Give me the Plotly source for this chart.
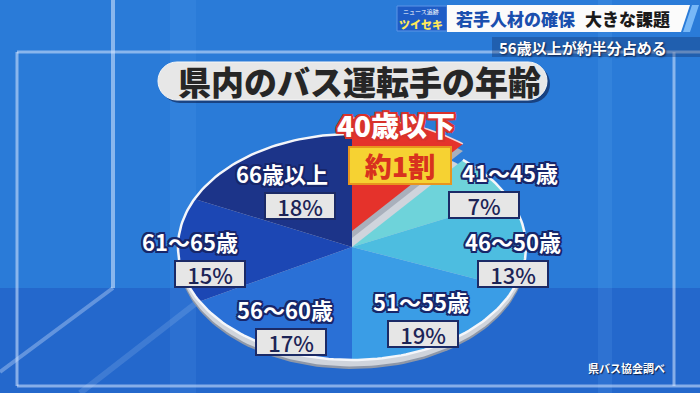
import numpy as np
import plotly.graph_objects as go

# --- data -------------------------------------------------------------
AGE_GROUPS = ["40歳以下", "41～45歳", "46～50歳", "51～55歳", "56～60歳", "61～65歳", "66歳以上"]
SHARES = [11, 7, 13, 19, 17, 15, 18]          # percent of drivers
TITLE = "県内のバス運転手の年齢"
HEADLINE_A = "若手人材の確保"
HEADLINE_B = "大きな課題"
SUBLINE = "56歳以上が約半分占める"
SOURCE = "県バス協会調べ"
HIGHLIGHT_NOTE = "約1割"

# --- styling ----------------------------------------------------------
SLICE_COLORS = ["#e5322b", "#6ed3da", "#4dbde0", "#3a9de6", "#2a70d6", "#1c47b4", "#1c3489"]
FONT = "Noto Sans CJK JP"
OUTLINE = "#17266a"
BG_TOP = "#2a7bd8"
BG_LOW = "#2468cc"

W, H = 700, 393
CX, CY = 352, 247          # pie centre (pixels)
RX, RY = 174, 113          # tilted pie radii
DEPTH = 9                  # rim thickness
LIFT = 16                  # how far the highlighted slice is pulled out
LABEL_R = 0.72
LABEL_NUDGE = [(0, 0), (46, -9), (36, 13), (0, 3), (0, 8), (-27, 7), (6, 11)]
LABEL_SPLIT = [0, 13, 0, -1, -3, -10, -9]   # name shifted right, value box left

cum = np.concatenate([[0], np.cumsum(SHARES)]) / 100.0


def wedge(f0, f1, dy=0.0, n=80):
    t = np.linspace(f0, f1, n) * 2 * np.pi
    xs = np.concatenate([[CX], CX + RX * np.sin(t), [CX]])
    ys = np.concatenate([[CY + dy], CY + dy - RY * np.cos(t), [CY + dy]])
    return xs, ys


def arc(f0, f1, dy=0.0, n=200):
    t = np.linspace(f0, f1, n) * 2 * np.pi
    return CX + RX * np.sin(t), CY + dy - RY * np.cos(t)


fig = go.Figure()

# rim of the tilted pie
for dy, col in [(DEPTH, "#8f98a8"), (DEPTH - 2.5, "#cfd4dc")]:
    xs, ys = arc(0, 1, dy)
    fig.add_trace(go.Scatter(x=xs, y=ys, fill="toself", fillcolor=col, mode="lines",
                             line=dict(width=0), hoverinfo="skip", showlegend=False))

# slices (all but the highlighted first one)
for i in range(1, len(SHARES)):
    xs, ys = wedge(cum[i], cum[i + 1])
    fig.add_trace(go.Scatter(x=xs, y=ys, fill="toself", fillcolor=SLICE_COLORS[i], mode="lines",
                             line=dict(width=0), name=AGE_GROUPS[i],
                             text=f"{AGE_GROUPS[i]} {SHARES[i]}%", hoverinfo="text",
                             hoveron="fills", showlegend=False))

# white edge of the top surface
xs, ys = arc(cum[1], 1)
fig.add_trace(go.Scatter(x=xs, y=ys, mode="lines", line=dict(color="#f4f6fa", width=2.5),
                         hoverinfo="skip", showlegend=False))

# pulled-out slice: side face then top
xs, ys = wedge(cum[0], cum[1], -LIFT + 7)
fig.add_trace(go.Scatter(x=xs, y=ys, fill="toself", fillcolor="#a9b0bc", mode="lines",
                         line=dict(width=0), hoverinfo="skip", showlegend=False))
xs, ys = wedge(cum[0], cum[1], -LIFT)
fig.add_trace(go.Scatter(x=xs, y=ys, fill="toself", fillcolor=SLICE_COLORS[0], mode="lines",
                         line=dict(width=0), text=f"{AGE_GROUPS[0]} {SHARES[0]}%",
                         hoverinfo="text", hoveron="fills", showlegend=False))
xs, ys = arc(cum[0], cum[1], -LIFT)
fig.add_trace(go.Scatter(x=xs, y=ys, mode="lines", line=dict(color="#f6d6d6", width=1.5),
                         hoverinfo="skip", showlegend=False))

# --- annotations ------------------------------------------------------
ann = []


def outline_shadow(c, w=1.6):
    parts = []
    for dx, dy in [(-w, -w), (w, -w), (-w, w), (w, w), (0, w + 0.4), (w + 0.4, 0), (-w - 0.4, 0), (0, -w - 0.4)]:
        parts.append(f"{dx}px {dy}px 0 {c}")
    return ", ".join(parts)


for i in range(1, len(SHARES)):
    mid = (cum[i] + cum[i + 1]) / 2 * 2 * np.pi
    gx = CX + LABEL_R * RX * np.sin(mid) + LABEL_NUDGE[i][0]
    gy = CY - LABEL_R * RY * np.cos(mid) + LABEL_NUDGE[i][1]
    ann.append(dict(x=gx + LABEL_SPLIT[i], y=gy - 16, text=AGE_GROUPS[i], showarrow=False,
                    font=dict(family=FONT, size=22, color="white", weight=700,
                              shadow=outline_shadow(OUTLINE))))
    ann.append(dict(x=gx - LABEL_SPLIT[i], y=gy + 17, text=f"{SHARES[i]}%", showarrow=False,
                    width=68, height=24, bgcolor="#e6e6e6", bordercolor="#1b2a66",
                    borderwidth=2, borderpad=0,
                    font=dict(family=FONT, size=22, color="#1c2456", weight=500)))

# highlighted slice labels
mid0 = (cum[0] + cum[1]) / 2 * 2 * np.pi
hx = CX + 0.42 * RX * np.sin(mid0)
ann.append(dict(x=hx + 19, y=125, text=AGE_GROUPS[0], showarrow=False,
                font=dict(family=FONT, size=28, color="white", weight=900,
                          shadow=outline_shadow("#d8322c", 1.8))))
ann.append(dict(x=hx + 23, y=165, text=HIGHLIGHT_NOTE, showarrow=False,
                width=100, height=35, bgcolor="#f6d232", bordercolor="#e8951e",
                borderwidth=2, borderpad=0,
                font=dict(family=FONT, size=27, color="#d8321e", weight=900)))

# title
ann.append(dict(x=359, y=81, text=TITLE, showarrow=False,
                font=dict(family=FONT, size=33, color="#262626", weight=900)))

# headline banner
ann.append(dict(x=421, y=11, text="ニュース追跡", showarrow=False,
                font=dict(family=FONT, size=6, color="white")))
ann.append(dict(x=421, y=23.5, text="ツイセキ", showarrow=False,
                font=dict(family=FONT, size=11, color="#ffe85a", weight=900)))
ann.append(dict(x=515, y=18.5, text=HEADLINE_A, showarrow=False,
                font=dict(family=FONT, size=17, color="#1a4fae", weight=900)))
ann.append(dict(x=627, y=18.5, text=HEADLINE_B, showarrow=False,
                font=dict(family=FONT, size=17, color="#1a1a1a", weight=900)))
ann.append(dict(x=583, y=47, text=SUBLINE, showarrow=False,
                font=dict(family=FONT, size=15, color="white", weight=700,
                          shadow="1px 1px 2px #0b1c44")))
ann.append(dict(x=626, y=368, text=SOURCE, showarrow=False,
                font=dict(family=FONT, size=11, color="white", weight=700,
                          shadow="1px 1px 1px #0b1c44")))

# --- background shapes ------------------------------------------------
line_c = "rgba(215,232,255,0.55)"
k = 10.5
pill = (f"M 177,62 L 528,62 C {528+k},62 547,{81-k} 547,81 C 547,{81+k} {528+k},100 528,100 "
        f"L 177,100 C {177-k},100 158,{81+k} 158,81 C 158,{81-k} {177-k},62 177,62 Z")
pill_shadow = (f"M 180,65 L 531,65 C {531+k},65 550,{84-k} 550,84 C 550,{84+k} {531+k},103 531,103 "
               f"L 180,103 C {180-k},103 161,{84+k} 161,84 C 161,{84-k} {180-k},65 180,65 Z")

shapes = [
    dict(type="rect", x0=0, x1=W, y0=288, y1=H, fillcolor=BG_LOW, line_width=0, layer="below"),
    dict(type="rect", x0=170, x1=196, y0=0, y1=H, fillcolor="rgba(120,190,255,0.10)", line_width=0, layer="below"),
    dict(type="rect", x0=598, x1=612, y0=0, y1=H, fillcolor="rgba(120,190,255,0.12)", line_width=0, layer="below"),
    dict(type="line", x0=113, x1=113, y0=0, y1=288, line=dict(color=line_c, width=4), layer="below"),
    dict(type="line", x0=113, x1=0, y0=288, y1=372, line=dict(color="rgba(215,232,255,0.35)", width=4), layer="below"),
    dict(type="line", x0=200, x1=80, y0=300, y1=393, line=dict(color="rgba(215,232,255,0.15)", width=6), layer="below"),
    dict(type="line", x0=17, x1=W, y0=52, y1=52, line=dict(color=line_c, width=3), layer="below"),
    dict(type="line", x0=17, x1=17, y0=52, y1=386, line=dict(color=line_c, width=3), layer="below"),
    dict(type="line", x0=17, x1=W, y0=386, y1=386, line=dict(color=line_c, width=3), layer="below"),
    dict(type="line", x0=674, x1=674, y0=52, y1=386, line=dict(color=line_c, width=3), layer="below"),
    # title pill
    dict(type="path", path=pill_shadow, fillcolor="rgba(10,20,60,0.55)", line_width=0, layer="below"),
    dict(type="path", path=pill, fillcolor="#e7e7e7", line=dict(color="#f8f8f8", width=1), layer="below"),
    # headline banner
    dict(type="rect", x0=397, x1=447, y0=6, y1=31, fillcolor="#1e5cc6", line=dict(color="#5c95e6", width=1), layer="below"),
    dict(type="path", path="M 447,5 L 690,5 L 681,32 L 447,32 Z", fillcolor="#fbfbfb", line_width=0, layer="below"),
    dict(type="path", path="M 692,5 L 699,5 L 690,32 L 683,32 Z", fillcolor="rgba(140,200,255,0.8)", line_width=0, layer="below"),
    dict(type="rect", x0=492, x1=W, y0=37, y1=57, fillcolor="rgba(10,30,80,0.30)", line_width=0, layer="below"),
]

fig.update_layout(
    width=W, height=H,
    margin=dict(l=0, r=0, t=0, b=0),
    paper_bgcolor=BG_TOP, plot_bgcolor=BG_TOP,
    xaxis=dict(range=[0, W], visible=False, fixedrange=True),
    yaxis=dict(range=[H, 0], visible=False, fixedrange=True),
    shapes=shapes, annotations=ann,
    showlegend=False,
)

fig.write_html("out.html")
